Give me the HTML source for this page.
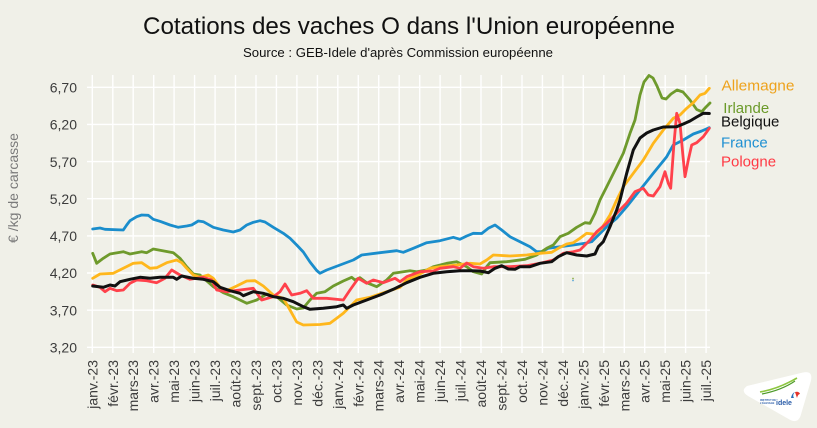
<!DOCTYPE html>
<html><head><meta charset="utf-8">
<style>
html,body{margin:0;padding:0;background:#f0f0e8;}
svg{display:block;font-family:"Liberation Sans",sans-serif;}
</style></head><body>
<svg width="817" height="428" viewBox="0 0 817 428" xmlns="http://www.w3.org/2000/svg">
<rect width="817" height="428" fill="#f0f0e8"/>
<text x="143" y="34" font-size="24" fill="#111" textLength="532" lengthAdjust="spacingAndGlyphs">Cotations des vaches O dans l'Union européenne</text>
<text x="243" y="57" font-size="13" fill="#111" textLength="310" lengthAdjust="spacingAndGlyphs">Source : GEB-Idele d'après Commission européenne</text>
<g stroke="#ffffff" stroke-width="1.4">
<line x1="87" x2="710" y1="87.3" y2="87.3"/>
<line x1="87" x2="710" y1="124.4" y2="124.4"/>
<line x1="87" x2="710" y1="161.6" y2="161.6"/>
<line x1="87" x2="710" y1="198.7" y2="198.7"/>
<line x1="87" x2="710" y1="235.9" y2="235.9"/>
<line x1="87" x2="710" y1="273" y2="273"/>
<line x1="87" x2="710" y1="310.2" y2="310.2"/>
<line x1="87" x2="710" y1="347.3" y2="347.3"/>
<line x1="92.3" x2="92.3" y1="75" y2="353"/><line x1="112.8" x2="112.8" y1="75" y2="353"/><line x1="133.2" x2="133.2" y1="75" y2="353"/><line x1="153.7" x2="153.7" y1="75" y2="353"/><line x1="174.1" x2="174.1" y1="75" y2="353"/><line x1="194.6" x2="194.6" y1="75" y2="353"/><line x1="215.1" x2="215.1" y1="75" y2="353"/><line x1="235.5" x2="235.5" y1="75" y2="353"/><line x1="256" x2="256" y1="75" y2="353"/><line x1="276.4" x2="276.4" y1="75" y2="353"/><line x1="296.9" x2="296.9" y1="75" y2="353"/><line x1="317.4" x2="317.4" y1="75" y2="353"/><line x1="337.8" x2="337.8" y1="75" y2="353"/><line x1="358.3" x2="358.3" y1="75" y2="353"/><line x1="378.7" x2="378.7" y1="75" y2="353"/><line x1="399.2" x2="399.2" y1="75" y2="353"/><line x1="419.7" x2="419.7" y1="75" y2="353"/><line x1="440.1" x2="440.1" y1="75" y2="353"/><line x1="460.6" x2="460.6" y1="75" y2="353"/><line x1="481" x2="481" y1="75" y2="353"/><line x1="501.5" x2="501.5" y1="75" y2="353"/><line x1="522" x2="522" y1="75" y2="353"/><line x1="542.4" x2="542.4" y1="75" y2="353"/><line x1="562.9" x2="562.9" y1="75" y2="353"/><line x1="583.3" x2="583.3" y1="75" y2="353"/><line x1="603.8" x2="603.8" y1="75" y2="353"/><line x1="624.3" x2="624.3" y1="75" y2="353"/><line x1="644.7" x2="644.7" y1="75" y2="353"/><line x1="665.2" x2="665.2" y1="75" y2="353"/><line x1="685.6" x2="685.6" y1="75" y2="353"/><line x1="706.1" x2="706.1" y1="75" y2="353"/>
</g>
<g font-size="14" fill="#3c3c3c" text-anchor="end">
<text x="77" y="92.5">6,70</text>
<text x="77" y="129.6">6,20</text>
<text x="77" y="166.8">5,70</text>
<text x="77" y="203.9">5,20</text>
<text x="77" y="241.1">4,70</text>
<text x="77" y="278.2">4,20</text>
<text x="77" y="315.4">3,70</text>
<text x="77" y="352.5">3,20</text>
</g>
<text transform="translate(18,188) rotate(-90)" x="0" y="0" font-size="14" fill="#7a7a7a" text-anchor="middle" textLength="110" lengthAdjust="spacingAndGlyphs">€ /kg de carcasse</text>
<g font-size="14" fill="#3c3c3c" text-anchor="end">
<text transform="translate(97.3,360) rotate(-90)">janv.-23</text>
<text transform="translate(117.8,360) rotate(-90)">févr.-23</text>
<text transform="translate(138.2,360) rotate(-90)">mars-23</text>
<text transform="translate(158.7,360) rotate(-90)">avr.-23</text>
<text transform="translate(179.1,360) rotate(-90)">mai-23</text>
<text transform="translate(199.6,360) rotate(-90)">juin-23</text>
<text transform="translate(220.1,360) rotate(-90)">juil.-23</text>
<text transform="translate(240.5,360) rotate(-90)">août-23</text>
<text transform="translate(261,360) rotate(-90)">sept.-23</text>
<text transform="translate(281.4,360) rotate(-90)">oct.-23</text>
<text transform="translate(301.9,360) rotate(-90)">nov.-23</text>
<text transform="translate(322.4,360) rotate(-90)">déc.-23</text>
<text transform="translate(342.8,360) rotate(-90)">janv.-24</text>
<text transform="translate(363.3,360) rotate(-90)">févr.-24</text>
<text transform="translate(383.7,360) rotate(-90)">mars-24</text>
<text transform="translate(404.2,360) rotate(-90)">avr.-24</text>
<text transform="translate(424.7,360) rotate(-90)">mai-24</text>
<text transform="translate(445.1,360) rotate(-90)">juin-24</text>
<text transform="translate(465.6,360) rotate(-90)">juil.-24</text>
<text transform="translate(486,360) rotate(-90)">août-24</text>
<text transform="translate(506.5,360) rotate(-90)">sept.-24</text>
<text transform="translate(527,360) rotate(-90)">oct.-24</text>
<text transform="translate(547.4,360) rotate(-90)">nov.-24</text>
<text transform="translate(567.9,360) rotate(-90)">déc.-24</text>
<text transform="translate(588.3,360) rotate(-90)">janv.-25</text>
<text transform="translate(608.8,360) rotate(-90)">févr.-25</text>
<text transform="translate(629.3,360) rotate(-90)">mars-25</text>
<text transform="translate(649.7,360) rotate(-90)">avr.-25</text>
<text transform="translate(670.2,360) rotate(-90)">mai-25</text>
<text transform="translate(690.6,360) rotate(-90)">juin-25</text>
<text transform="translate(711.1,360) rotate(-90)">juil.-25</text>
</g>
<g fill="none" stroke-linejoin="round" stroke-linecap="round">
<polyline stroke="#1a8dcc" stroke-width="2.8" points="92.7,229 100,228 105,229.3 123.3,230 126.7,225 130,220.7 136.7,216.7 141.7,215 148.3,215.3 153.3,219.3 160,221.3 170,225 178.3,227.3 186.7,226 191.7,225 198.3,221 203.3,221.7 213.3,227.3 223.3,230 233.3,232 240,230 246.7,225 253.3,222.3 260,220.7 265,222 273.3,227.3 283.3,233.3 290,238.3 296.7,245 303.3,252 310,262 316.7,270.5 320,273.3 326.7,270 340,265 353.3,260 361.7,255 380,252.7 396.7,250.7 403.3,252.3 413.3,248.3 426.7,242.7 440,240.7 453.3,237.3 460,239.3 466.7,236 473.3,233.3 481.7,233.5 488.3,228.3 495,225 501.7,230 510,236.7 520,241.7 530,246.7 536.7,251.7 541.7,251.7 548.3,248.3 560,246.7 573.3,245 585,243.3 591.7,241.7 596.7,236.7 606.7,226.7 616.7,218.3 626.7,206.7 640,190 653.3,173.3 666.7,156.7 673.3,145 683.3,140 693.3,134 701.7,131 709.3,127.7"/>
<polyline stroke="#6e9a2c" stroke-width="2.8" points="92.7,253.3 96.7,263.3 103.3,258.3 110,254 123.3,251.7 130,254 141.7,251.7 146.7,252.7 153.3,249 173.3,252.7 180,258.3 186.7,266.7 193.3,274 200,275 213.3,286.7 223.3,292.7 233.3,296.7 246.7,303.3 256.7,300 266.7,294 276.7,296.7 286.7,305 296.7,309 303.3,308 310,300 316.7,293.3 325,291.7 333.3,286 343.3,281 351.7,277.3 355,280 360,277.7 366.7,282.7 376.7,286.7 386.7,280 393.3,273.3 410,270.7 416.7,271.7 426.7,270 433.3,266.7 446.7,263.3 456.7,261.7 466.7,266.7 473.3,271.7 481.7,274 486.7,266.7 490,262.7 506.7,261.7 525,259.3 536.7,255 546.7,248.3 553.3,245 560,236.7 568.3,233.3 576.7,227.3 585,222.7 590,223.3 595,213.3 600,200 606.7,186.7 616.7,166.7 623.3,153.3 630,133.3 635,120 640,95 644,82 649,75.5 653,78 657,86 662,98 666,99 671,94 677,90 683,92 690,100 696.7,109.5 701.7,111.7 706,107 710,103"/>
<polyline stroke="#ffb71c" stroke-width="2.8" points="92.7,278.3 100,274 113.3,273.3 123.3,268.3 133.3,263.3 141.7,262.7 150,268.3 156.7,267.7 166.7,262.7 176.7,260 181.7,262.7 186.7,268.3 193.3,275 200,277.3 208.3,275 213.3,278.3 220,287.3 226.7,290.7 236.7,286 246.7,281 255,280.7 263.3,286 273.3,295 283.3,298.3 290,310 296.7,322 303.3,325 320,324.5 330,323.3 336.7,318.3 343.3,313.3 356.7,300 370,297.3 386.7,291.7 400,287.3 406.7,280 420,274 430,268.3 440,266.7 456.7,265 470,263.3 480,264 486.7,260 493.3,255 510,256 526.7,255 540,253.3 551.7,252.3 558.3,248.3 566.7,244 573.3,242.7 580,238.3 586.7,233.3 595,234.3 601.7,228.3 610,215 616.7,200 623.3,186.7 633.3,173.3 643.3,160 653.3,143.3 663.3,130 673.3,118.3 680,115 686.7,108.3 693.3,102.7 700,95 705,93.3 709.3,88.3"/>
<polyline stroke="#ff414b" stroke-width="2.8" points="92.7,285 100,287.3 105,291.7 110,288.3 116.7,290.7 123.3,290 130,283.3 136.7,280 146.7,280.7 156.7,282.7 165,278.3 171.7,270 180,275 190,279.3 203.3,277.3 211.7,280 216.7,290 226.7,291.7 240,290 253.3,288.3 261.7,300 273.3,296.7 280,291.7 285,284 291.7,295 300,293.3 306.7,290.7 313.3,298.3 326.7,298.3 343.3,300 350,290 358.3,278.3 366.7,283.3 373.3,280 383.3,282.7 395,278.3 400,281.7 406.7,276.7 420,271.7 433.3,271 440,268.3 453.3,266.7 460,268.3 466.7,263 473.3,266.7 483.3,268.3 493.3,266.7 510,266.7 526.7,265.7 540,263.3 553.3,260 563.3,253.3 573.3,251.7 580,250 585,245 590,240 596.7,231.7 606.7,223.3 616.7,213.3 626.7,203 635,191.7 643.3,188.3 648.3,195 653.3,196 660,186.7 665,171.7 668.3,183.3 670.7,188.3 674,143.3 676.7,113.3 680,123.3 682.7,153.3 685,176.7 688.3,160 691.7,145 696.7,142.7 703.3,136.7 709.3,128.3"/>
<polyline stroke="#111111" stroke-width="3" points="92.7,286 103.3,287.3 110,285 115,286 120,281.7 130,279.3 140,277.3 150,278.3 160,277.3 173.3,277.3 176.7,279.3 181.7,276 193.3,278.3 203.3,279.3 213.3,281.7 220,287.3 230,290.7 240,293.3 243.3,295.7 253.3,291.7 263.3,293.3 273.3,296.7 283.3,298.3 293.3,301.7 303.3,306.7 310,309.3 323.3,308.3 336.7,306.7 343.3,305 346.7,308.3 353.3,305 366.7,300 380,295 393.3,289.3 406.7,282.7 420,277.3 433.3,273.3 446.7,271.7 460,270.7 470,270.7 480,271 488.3,272.7 495,268.3 501.7,265.7 508.3,269 515,269.3 520,266.7 530,266.7 540,263.3 551.7,261.7 558.3,256.7 566.7,252.7 576.7,255 586.7,256 595,254 598.3,246.7 603.3,241.7 610,226.7 616.7,210 620,200 626.7,173.3 633.3,150 640,138 646.7,133 653.3,130 663.3,127 676.7,126.7 683.3,124 690,121 696.7,117 703.3,113.3 709.3,113.5"/>
</g>
<circle cx="573" cy="278.5" r="0.9" fill="#8fb04a"/>
<circle cx="573" cy="280.5" r="0.9" fill="#5aa6d8"/>
<g font-size="15">
<text x="721.5" y="90.5" fill="#eea21c" textLength="73" lengthAdjust="spacingAndGlyphs">Allemagne</text>
<text x="723.3" y="113" fill="#6b9a2a">Irlande</text>
<text x="721" y="126.3" fill="#111">Belgique</text>
<text x="721" y="147.7" fill="#1f90d2">France</text>
<text x="721" y="166.7" fill="#ff3a44">Pologne</text>
</g>
<g>
<path d="M747,386 L803,372.5 Q813,370.5 811,380.5 L800.5,416 Q797.5,424 789.5,419.5 L748,396 Q740,391 747,386 Z" fill="#ffffff"/>
<path d="M760,392 Q778,389 797,378" stroke="#8cc63f" stroke-width="1.6" fill="none"/>
<path d="M762,394 Q782,390 795,381" stroke="#4e9a2a" stroke-width="1.2" fill="none"/>
<path d="M791,398 q1,-5 4,-6 q-3,3 -1,6 z" fill="#2a6fb8"/>
<path d="M795,392 q4,-1 5,2 q-2,0 -3,4 z" fill="#e5332a"/>
<text x="760" y="401" font-size="2.6" fill="#2a5ca8" font-weight="bold">INSTITUT DE</text>
<text x="760" y="404" font-size="2.6" fill="#2a5ca8" font-weight="bold">L'ÉLEVAGE</text>
<text x="776" y="405" font-size="7" fill="#2a5ca8" font-weight="bold">idele</text>
</g>
</svg>
</body></html>
